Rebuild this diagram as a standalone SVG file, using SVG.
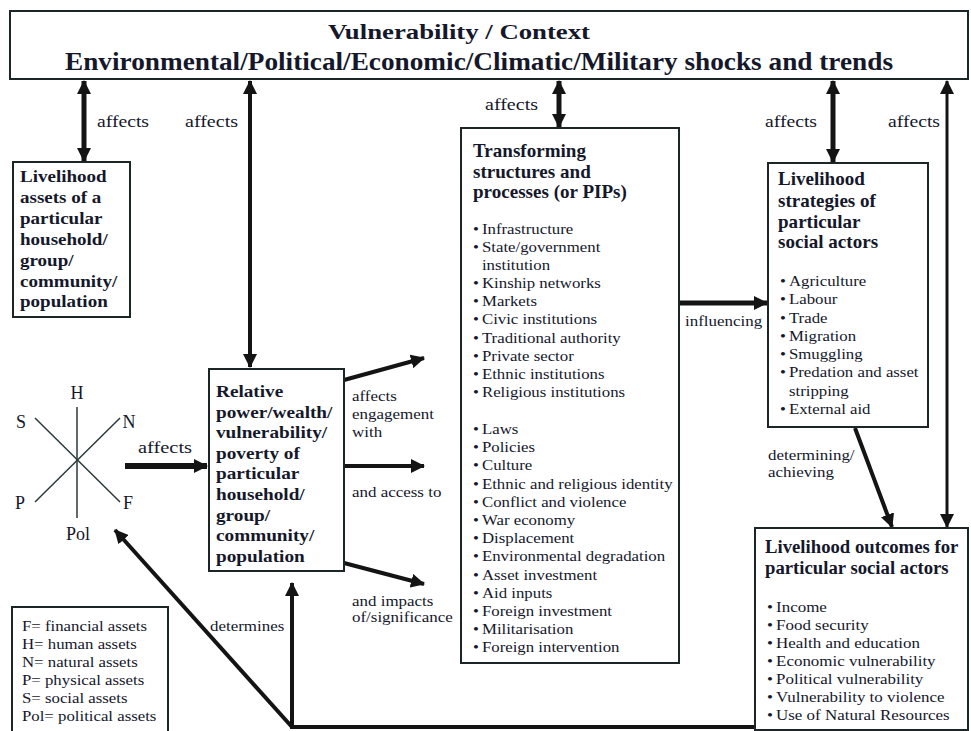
<svg xmlns="http://www.w3.org/2000/svg" width="971" height="731" viewBox="0 0 971 731" font-family="'Liberation Serif', 'Times New Roman', serif">
<defs>
<marker id="ah" viewBox="0 0 14 14" markerWidth="14" markerHeight="14" markerUnits="userSpaceOnUse" refX="13" refY="7" orient="auto-start-reverse">
<path d="M0,0 L14,7 L0,14 z" fill="#141414"/>
</marker>
<style>
.box{fill:#fff;stroke:#1c2626;stroke-width:2}
.t{font-family:'Liberation Serif','Times New Roman',serif;fill:#15172a}
.b{font-weight:bold}
.c{stroke:#141414;fill:none}
.s15{font-size:15px}
.s16{font-size:16px}
.s17{font-size:17px}
.s18{font-size:18px}
</style>
</defs>
<rect width="971" height="731" fill="#fff"/>

<g id="context">
<rect class="box" x="10" y="11" width="958" height="68"/>
<text class="t b" x="328" y="39" font-size="22" textLength="262" lengthAdjust="spacingAndGlyphs">Vulnerability / Context</text>
<text class="t b" x="65" y="70" font-size="26" textLength="828" lengthAdjust="spacingAndGlyphs">Environmental/Political/Economic/Climatic/Military shocks and trends</text>
</g>

<g id="connectors">
<line class="c" x1="84" y1="81" x2="84" y2="161" stroke-width="5" marker-start="url(#ah)" marker-end="url(#ah)"/>
<line class="c" x1="250" y1="81" x2="250" y2="367" stroke-width="4" marker-start="url(#ah)" marker-end="url(#ah)"/>
<line class="c" x1="559" y1="81" x2="559" y2="127" stroke-width="5" marker-start="url(#ah)" marker-end="url(#ah)"/>
<line class="c" x1="833" y1="81" x2="833" y2="162" stroke-width="5" marker-start="url(#ah)" marker-end="url(#ah)"/>
<line class="c" x1="947" y1="81" x2="947" y2="527" stroke-width="3" marker-start="url(#ah)" marker-end="url(#ah)"/>
<line class="c" x1="680" y1="303" x2="767" y2="303" stroke-width="5" marker-end="url(#ah)"/>
<line class="c" x1="125" y1="466" x2="207" y2="466" stroke-width="6" marker-end="url(#ah)"/>
<line class="c" x1="344" y1="380" x2="424" y2="358" stroke-width="4" marker-end="url(#ah)"/>
<line class="c" x1="344" y1="466" x2="424" y2="466" stroke-width="4" marker-end="url(#ah)"/>
<line class="c" x1="344" y1="563" x2="424" y2="584" stroke-width="4" marker-end="url(#ah)"/>
<line class="c" x1="855" y1="428" x2="892" y2="527" stroke-width="4" marker-end="url(#ah)"/>
<line class="c" x1="757" y1="727" x2="290" y2="727" stroke-width="4"/>
<line class="c" x1="292" y1="727" x2="292" y2="583" stroke-width="4" marker-end="url(#ah)"/>
<line class="c" x1="292" y1="727" x2="115" y2="530" stroke-width="4" marker-end="url(#ah)"/>
<g class="t" font-size="16">
<text x="97" y="127" textLength="52" lengthAdjust="spacingAndGlyphs">affects</text>
<text x="185" y="127" textLength="53" lengthAdjust="spacingAndGlyphs">affects</text>
<text x="485" y="110" textLength="53" lengthAdjust="spacingAndGlyphs">affects</text>
<text x="765" y="127" textLength="52" lengthAdjust="spacingAndGlyphs">affects</text>
<text x="888" y="127" textLength="52" lengthAdjust="spacingAndGlyphs">affects</text>
<text x="138" y="453" textLength="54" lengthAdjust="spacingAndGlyphs">affects</text>
</g>
<g class="t s15" transform="matrix(1.13,0,0,1,-45.76,0)">
<text x="352" y="401">affects</text>
<text x="352" y="419">engagement</text>
<text x="352" y="437">with</text>
<text x="352" y="497">and access to</text>
<text x="352" y="606">and impacts</text>
<text x="352" y="622">of/significance</text>
</g>
<g class="t s15" transform="matrix(1.13,0,0,1,-89.05,0)">
<text x="685" y="326">influencing</text>
</g>
<g class="t s15" transform="matrix(1.13,0,0,1,-99.84,0)">
<text x="768" y="460">determining/</text>
<text x="768" y="477">achieving</text>
</g>
<g class="t s15" transform="matrix(1.13,0,0,1,-27.3,0)">
<text x="210" y="631">determines</text>
</g>
</g>

<g id="assets-box">
<rect class="box" x="13" y="162" width="117" height="155"/>
<g class="t b s17" transform="matrix(1.12,0,0,1,-2.4,0)">
<text x="20" y="182">Livelihood</text>
<text x="20" y="203">assets of a</text>
<text x="20" y="224">particular</text>
<text x="20" y="245">household/</text>
<text x="20" y="266">group/</text>
<text x="20" y="287">community/</text>
<text x="20" y="307">population</text>
</g>
</g>

<g id="asset-star">
<g stroke="#2a3a3a" stroke-width="1.5">
<line x1="77" y1="407" x2="77" y2="518"/>
<line x1="35" y1="418" x2="120" y2="502"/>
<line x1="120" y1="418" x2="35" y2="502"/>
</g>
<g class="t" font-size="18" text-anchor="middle">
<text x="77" y="399">H</text>
<text x="21" y="428">S</text>
<text x="129" y="428">N</text>
<text x="20" y="509">P</text>
<text x="128" y="509">F</text>
<text x="78" y="540">Pol</text>
</g>
</g>

<g id="legend">
<rect class="box" x="12" y="607" width="156" height="126"/>
<g class="t s15" transform="matrix(1.12,0,0,1,-2.64,0)">
<text x="22" y="631">F= financial assets</text>
<text x="22" y="649">H= human assets</text>
<text x="22" y="667">N= natural assets</text>
<text x="22" y="685">P= physical assets</text>
<text x="22" y="703">S= social assets</text>
<text x="22" y="721">Pol= political assets</text>
</g>
</g>

<g id="relative-box">
<rect class="box" x="209" y="369" width="135" height="202"/>
<g class="t b" font-size="17.5" transform="matrix(1.1,0,0,1,-21.6,0)">
<text x="216" y="397">Relative</text>
<text x="216" y="417.6">power/wealth/</text>
<text x="216" y="438.2">vulnerability/</text>
<text x="216" y="458.8">poverty of</text>
<text x="216" y="479.4">particular</text>
<text x="216" y="500">household/</text>
<text x="216" y="520.6">group/</text>
<text x="216" y="541.2">community/</text>
<text x="216" y="561.8">population</text>
</g>
</g>

<g id="transforming-box">
<rect class="box" x="461" y="128" width="218" height="535"/>
<g class="t b s18" transform="matrix(1.06,0,0,1,-28.38,0)">
<text x="473" y="157">Transforming</text>
<text x="473" y="178">structures and</text>
<text x="473" y="198">processes (or PIPs)</text>
</g>
<g class="t s15" transform="matrix(1.12,0,0,1,-56.76,0)">
<text x="473" y="234">•</text><text x="481" y="234">Infrastructure</text>
<text x="473" y="252.1">•</text><text x="481" y="252.1">State/government</text>
<text x="481" y="270.2">institution</text>
<text x="473" y="288.3">•</text><text x="481" y="288.3">Kinship networks</text>
<text x="473" y="306.4">•</text><text x="481" y="306.4">Markets</text>
<text x="473" y="324.5">•</text><text x="481" y="324.5">Civic institutions</text>
<text x="473" y="342.6">•</text><text x="481" y="342.6">Traditional authority</text>
<text x="473" y="360.7">•</text><text x="481" y="360.7">Private sector</text>
<text x="473" y="378.8">•</text><text x="481" y="378.8">Ethnic institutions</text>
<text x="473" y="396.9">•</text><text x="481" y="396.9">Religious institutions</text>
<text x="473" y="434">•</text><text x="481" y="434">Laws</text>
<text x="473" y="452.2">•</text><text x="481" y="452.2">Policies</text>
<text x="473" y="470.4">•</text><text x="481" y="470.4">Culture</text>
<text x="473" y="488.6">•</text><text x="481" y="488.6">Ethnic and religious identity</text>
<text x="473" y="506.8">•</text><text x="481" y="506.8">Conflict and violence</text>
<text x="473" y="525">•</text><text x="481" y="525">War economy</text>
<text x="473" y="543.2">•</text><text x="481" y="543.2">Displacement</text>
<text x="473" y="561.4">•</text><text x="481" y="561.4">Environmental degradation</text>
<text x="473" y="579.6">•</text><text x="481" y="579.6">Asset investment</text>
<text x="473" y="597.8">•</text><text x="481" y="597.8">Aid inputs</text>
<text x="473" y="616">•</text><text x="481" y="616">Foreign investment</text>
<text x="473" y="634.2">•</text><text x="481" y="634.2">Militarisation</text>
<text x="473" y="652.4">•</text><text x="481" y="652.4">Foreign intervention</text>
</g>
</g>

<g id="strategies-box">
<rect class="box" x="768" y="163" width="160" height="264"/>
<g class="t b s18" transform="matrix(1.06,0,0,1,-46.68,0)">
<text x="778" y="185">Livelihood</text>
<text x="778" y="207">strategies of</text>
<text x="778" y="228">particular</text>
<text x="778" y="248">social actors</text>
</g>
<g class="t s15" transform="matrix(1.12,0,0,1,-93.6,0)">
<text x="780" y="286">•</text><text x="788" y="286">Agriculture</text>
<text x="780" y="304.3">•</text><text x="788" y="304.3">Labour</text>
<text x="780" y="322.6">•</text><text x="788" y="322.6">Trade</text>
<text x="780" y="340.9">•</text><text x="788" y="340.9">Migration</text>
<text x="780" y="359.2">•</text><text x="788" y="359.2">Smuggling</text>
<text x="780" y="377.5">•</text><text x="788" y="377.5">Predation and asset</text>
<text x="788" y="395.8">stripping</text>
<text x="780" y="414">•</text><text x="788" y="414">External aid</text>
</g>
</g>

<g id="outcomes-box">
<rect class="box" x="755" y="528" width="213" height="202"/>
<g class="t b s18" transform="matrix(1.04,0,0,1,-30.6,0)">
<text x="765" y="553">Livelihood outcomes for</text>
<text x="765" y="574">particular social actors</text>
</g>
<g class="t s15" transform="matrix(1.13,0,0,1,-99.71,0)">
<text x="767" y="612">•</text><text x="775" y="612">Income</text>
<text x="767" y="630">•</text><text x="775" y="630">Food security</text>
<text x="767" y="648.5">•</text><text x="775" y="648.5">Health and education</text>
<text x="767" y="666.5">•</text><text x="775" y="666.5">Economic vulnerability</text>
<text x="767" y="684.5">•</text><text x="775" y="684.5">Political vulnerability</text>
<text x="767" y="702.5">•</text><text x="775" y="702.5">Vulnerability to violence</text>
<text x="767" y="720.5">•</text><text x="775" y="720.5">Use of Natural Resources</text>
</g>
</g>
</svg>
